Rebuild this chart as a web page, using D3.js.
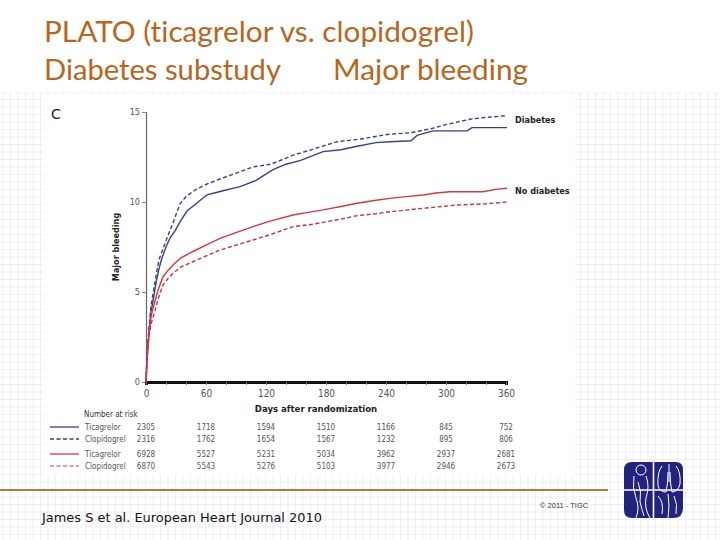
<!DOCTYPE html>
<html>
<head>
<meta charset="utf-8">
<script src="https://cdn.jsdelivr.net/npm/d3@7"></script>
<style>
  html, body { margin: 0; padding: 0; background: #fff; }
  svg { display: block; }
  text { font-variant-ligatures: none; }
</style>
</head>
<body>
<div id="chart"></div>
<script>
// Major bleeding (%)
const diabClopDays = [0, 1, 3, 5, 7, 10, 13, 17, 21, 26, 30, 34, 40, 50, 61, 75, 90, 107, 125, 147, 165, 191, 215, 241, 265, 287, 300, 324, 340, 361];
const diabClopVals = [0, 1.4, 3.0, 4.2, 4.9, 5.9, 6.8, 7.4, 8.0, 8.7, 9.3, 9.9, 10.3, 10.7, 11.0, 11.3, 11.6, 11.95, 12.1, 12.6, 12.9, 13.35, 13.5, 13.75, 13.85, 14.1, 14.3, 14.6, 14.7, 14.8];

const diabTicaDays = [0, 1, 3, 5, 7, 10, 13, 16, 20, 24, 29, 34, 41, 50, 61, 75, 94, 110, 127, 140, 154, 177, 195, 211, 230, 244, 265, 271, 287, 321, 326, 361];
const diabTicaVals = [0, 1.3, 2.8, 3.9, 4.5, 5.5, 6.3, 6.9, 7.5, 8.0, 8.4, 8.9, 9.5, 9.9, 10.4, 10.6, 10.85, 11.2, 11.8, 12.1, 12.3, 12.8, 12.9, 13.1, 13.3, 13.35, 13.4, 13.7, 13.95, 13.95, 14.13, 14.13];

const noDiabTicaDays = [0, 1, 3, 5, 7, 9, 12, 17, 22, 27, 35, 47, 60, 74, 90, 107, 125, 147, 165, 177, 195, 211, 230, 244, 260, 277, 290, 304, 337, 350, 361];
const noDiabTicaVals = [0, 1.3, 2.7, 3.6, 4.1, 4.5, 5.1, 5.85, 6.2, 6.5, 6.9, 7.25, 7.6, 7.98, 8.3, 8.63, 8.95, 9.28, 9.45, 9.56, 9.75, 9.93, 10.1, 10.2, 10.3, 10.39, 10.5, 10.57, 10.57, 10.7, 10.76];

const noDiabClopDays = [0, 1, 3, 5, 7, 9, 12, 17, 22, 27, 35, 47, 60, 74, 90, 107, 125, 147, 165, 177, 195, 211, 230, 244, 260, 277, 290, 311, 340, 361];
const noDiabClopVals = [0, 1.2, 2.5, 3.2, 3.6, 3.95, 4.6, 5.39, 5.75, 6.04, 6.4, 6.68, 7.0, 7.33, 7.6, 7.89, 8.2, 8.63, 8.75, 8.87, 9.05, 9.24, 9.35, 9.46, 9.55, 9.65, 9.72, 9.83, 9.9, 10.0];

const xTicks = [0, 60, 120, 180, 240, 300, 360];
const yTicks = [0, 5, 10, 15];

// Number at risk table
const riskDays = [0, 60, 120, 180, 240, 300, 360];
const riskLabels = ["Ticagrelor", "Clopidogrel", "Ticagrelor", "Clopidogrel"];
const riskTicaDiab = [2305, 1718, 1594, 1510, 1166, 845, 752];
const riskClopDiab = [2316, 1762, 1654, 1567, 1232, 895, 806];
const riskTicaNoDiab = [6928, 5527, 5231, 5034, 3962, 2937, 2681];
const riskClopNoDiab = [6870, 5543, 5276, 5103, 3977, 2946, 2673];

const width = 720, height = 540;
const blue = "#34418a", red = "#d8363c", redLight = "#e07a80";
const chartFont = "'DejaVu Sans Condensed', 'Open Sans', sans-serif";
const titleFont = "Lato, 'Open Sans', sans-serif";

const svg = d3.select("#chart")
  .append("svg")
  .attr("width", width)
  .attr("height", height);

// graph paper background
const grid = svg.append("g").attr("stroke", "#e4e4ef").attr("stroke-width", 0.6);
for (let gx = 3; gx < width; gx += 7.5) {
  grid.append("line").attr("x1", gx).attr("x2", gx).attr("y1", 0).attr("y2", height);
}
for (let gy = 2; gy < height; gy += 7.5) {
  grid.append("line").attr("y1", gy).attr("y2", gy).attr("x1", 0).attr("x2", width);
}
svg.append("rect").attr("x", 0).attr("y", 0).attr("width", width).attr("height", 92).attr("fill", "#fff");

// pasted figure (white area)
svg.append("rect")
  .attr("x", 44).attr("y", 95)
  .attr("width", 531).attr("height", 380)
  .attr("fill", "#fff");

// Titre
function title(x, y, w, txt) {
  svg.append("text")
    .attr("x", x).attr("y", y)
    .attr("fill", "#b8661e")
    .attr("textLength", w)
    .attr("lengthAdjust", "spacingAndGlyphs")
    .style("font-family", titleFont)
    .style("font-size", "28px")
    .text(txt);
}
title(44, 42, 430, "PLATO (ticagrelor vs. clopidogrel)");
title(44, 80, 237, "Diabetes substudy");
title(333, 80, 195, "Major bleeding");

// Echelles
const xScale = d3.scaleLinear().domain([0, 360]).range([146, 506]);
const yScale = d3.scaleLinear().domain([0, 15]).range([382, 112]);

// Axes
const yAxis = d3.axisLeft(yScale).tickValues(yTicks).tickSize(4).tickPadding(2);
const gy = svg.append("g")
  .attr("transform", `translate(${xScale(0)}, 0)`)
  .call(yAxis);
gy.select(".domain").attr("stroke", "#666").attr("stroke-width", 1.2);
gy.selectAll(".tick line").attr("stroke", "#888");
gy.selectAll(".tick text")
  .attr("fill", "#555")
  .style("font-family", chartFont)
  .style("font-size", "9px");

const xAxis = d3.axisBottom(xScale).ticks(12).tickSize(3).tickFormat(d => xTicks.includes(d) ? d : "");
const gx = svg.append("g")
  .attr("transform", `translate(0, ${yScale(0)})`)
  .call(xAxis);
gx.select(".domain").attr("stroke", "#111").attr("stroke-width", 3);
gx.selectAll(".tick line").attr("stroke", "#777");
gx.selectAll(".tick text")
  .attr("fill", "#555")
  .attr("dy", "0.9em")
  .style("font-family", chartFont)
  .style("font-size", "10px");

// Lignes de courbe
const line = d3.line()
  .x(d => xScale(d[0]))
  .y(d => yScale(d[1]))
  .curve(d3.curveLinear);

const series = [
  { days: diabClopDays, vals: diabClopVals, color: blue, dash: "4,2.5" },
  { days: diabTicaDays, vals: diabTicaVals, color: blue, dash: null },
  { days: noDiabClopDays, vals: noDiabClopVals, color: "#c8323a", dash: "4,2.5" },
  { days: noDiabTicaDays, vals: noDiabTicaVals, color: red, dash: null }
];

series.forEach(s => {
  svg.append("path")
    .datum(d3.zip(s.days, s.vals))
    .attr("fill", "none")
    .attr("stroke", s.color)
    .attr("stroke-width", 1.4)
    .attr("stroke-dasharray", s.dash)
    .attr("d", line);
});

// curve labels
svg.append("text")
  .attr("x", 515).attr("y", 120)
  .attr("dominant-baseline", "middle")
  .attr("fill", "#222")
  .style("font-family", chartFont)
  .style("font-size", "9px")
  .style("font-weight", "bold")
  .text("Diabetes");

svg.append("text")
  .attr("x", 515).attr("y", 191)
  .attr("dominant-baseline", "middle")
  .attr("fill", "#222")
  .style("font-family", chartFont)
  .style("font-size", "9px")
  .style("font-weight", "bold")
  .text("No diabetes");

// panel letter
svg.append("text")
  .attr("x", 51).attr("y", 119)
  .attr("fill", "#222")
  .style("font-family", "'DejaVu Sans', sans-serif")
  .style("font-size", "14px")
  .text("C");

// Légendes des axes
svg.append("text")
  .attr("transform", "rotate(-90)")
  .attr("x", -247)
  .attr("y", 116)
  .attr("dominant-baseline", "middle")
  .attr("text-anchor", "middle")
  .attr("fill", "#222")
  .style("font-family", chartFont)
  .style("font-size", "9px")
  .style("font-weight", "bold")
  .text("Major bleeding");

svg.append("text")
  .attr("x", 316).attr("y", 409)
  .attr("dominant-baseline", "middle")
  .attr("text-anchor", "middle")
  .attr("fill", "#222")
  .style("font-family", chartFont)
  .style("font-size", "9.5px")
  .style("font-weight", "bold")
  .text("Days after randomization");

// Number at risk
svg.append("text")
  .attr("x", 84).attr("y", 414)
  .attr("dominant-baseline", "middle")
  .attr("fill", "#333")
  .style("font-family", chartFont)
  .style("font-size", "8px")
  .text("Number at risk");

const riskRows = [
  { vals: riskTicaDiab, color: blue, dash: null, y: 427 },
  { vals: riskClopDiab, color: blue, dash: "4,2.5", y: 439 },
  { vals: riskTicaNoDiab, color: red, dash: null, y: 454 },
  { vals: riskClopNoDiab, color: redLight, dash: "4,2.5", y: 466 }
];

riskRows.forEach((r, i) => {
  svg.append("line")
    .attr("x1", 50).attr("x2", 79)
    .attr("y1", r.y).attr("y2", r.y)
    .attr("stroke", r.color)
    .attr("stroke-width", 1.3)
    .attr("stroke-dasharray", r.dash);

  svg.append("text")
    .attr("x", 85).attr("y", r.y)
    .attr("dominant-baseline", "middle")
    .attr("fill", "#555")
    .style("font-family", chartFont)
    .style("font-size", "8px")
    .text(riskLabels[i]);

  svg.selectAll(null)
    .data(r.vals)
    .enter()
    .append("text")
    .attr("x", (d, j) => xScale(riskDays[j]))
    .attr("y", r.y)
    .attr("dominant-baseline", "middle")
    .attr("text-anchor", "middle")
    .attr("fill", "#555")
    .style("font-family", chartFont)
    .style("font-size", "8px")
    .text(d => d);
});

// footer
svg.append("line")
  .attr("x1", 0).attr("x2", 608)
  .attr("y1", 490).attr("y2", 490)
  .attr("stroke", "#c07a2c")
  .attr("stroke-width", 2);

svg.append("text")
  .attr("x", 42).attr("y", 522)
  .attr("fill", "#111")
  .attr("textLength", 280)
  .attr("lengthAdjust", "spacingAndGlyphs")
  .style("font-family", chartFont)
  .style("font-size", "13px")
  .text("James S et al. European Heart Journal 2010");

svg.append("text")
  .attr("x", 540).attr("y", 508)
  .attr("fill", "#333")
  .style("font-family", "'Liberation Sans', Arial, sans-serif")
  .style("font-size", "7.5px")
  .text("© 2011 - TIGC");

// logo
const logo = svg.append("g").attr("transform", "translate(624, 462)");
logo.append("path")
  .attr("d", "M8,0 H52 Q59,0 59,8 V46 Q59,56 49,56 H8 Q0,56 0,48 V8 Q0,0 8,0 Z")
  .attr("fill", "#23237e");
logo.append("line").attr("x1", 29.5).attr("x2", 29.5).attr("y1", 0).attr("y2", 56)
  .attr("stroke", "#fff").attr("stroke-width", 1.6);
logo.append("line").attr("x1", 0).attr("x2", 59).attr("y1", 28).attr("y2", 28)
  .attr("stroke", "#fff").attr("stroke-width", 1.6);
const figure = logo.append("g").attr("fill", "none").attr("stroke", "#fff").attr("stroke-width", 1);
figure.append("circle").attr("cx", 17).attr("cy", 8).attr("r", 5);
figure.append("path").attr("d", "M10,14 Q8,26 12,36 Q16,46 12,56 M22,14 Q26,24 22,36 Q20,46 26,56 M14,20 Q18,30 16,40 Q18,48 20,54");
figure.append("path").attr("d", "M38,4 Q33,10 34,24 Q36,30 42,30 Q44,22 44,10 M52,4 Q57,10 56,22 Q54,30 48,30 Q46,22 46,10 M45,2 V20");
figure.append("path").attr("d", "M34,34 Q40,40 38,52 M44,32 Q46,44 44,56 M50,34 Q54,42 52,52");
</script>
</body>
</html>
